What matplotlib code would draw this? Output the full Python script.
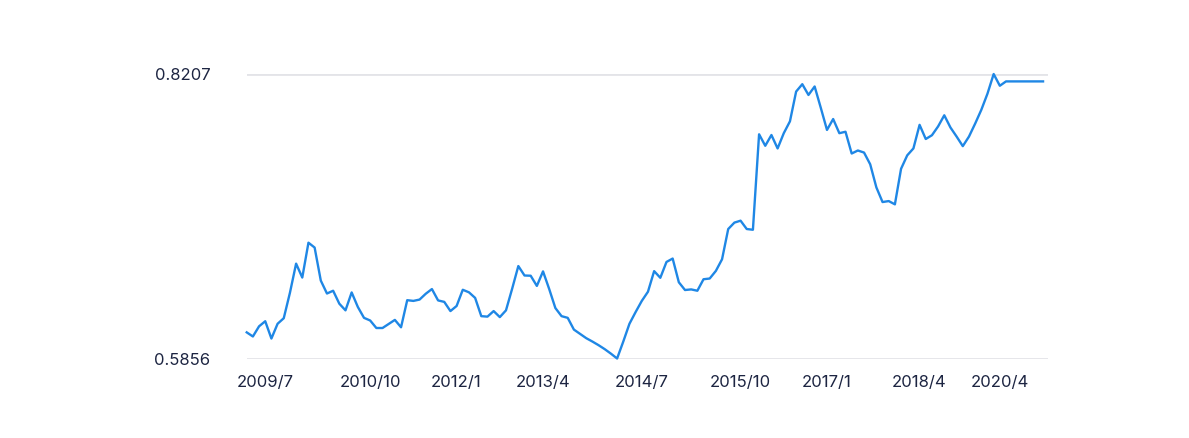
import numpy as np
import matplotlib
matplotlib.use('Agg')
import matplotlib.pyplot as plt

# valores (um por ponto)
values = [
    0.6072, 0.6038, 0.6122, 0.6164, 0.6021, 0.6143, 0.6189, 0.6399, 0.6640, 0.6525,
    0.6813, 0.6773, 0.6500, 0.6393, 0.6416, 0.6309, 0.6254, 0.6402, 0.6282, 0.6192,
    0.6170, 0.6108, 0.6108, 0.6142, 0.6175, 0.6114, 0.6338, 0.6332, 0.6343, 0.6391,
    0.6430, 0.6336, 0.6324, 0.6248, 0.6290, 0.6424, 0.6403, 0.6357, 0.6206, 0.6202,
    0.6248, 0.6198, 0.6254, 0.6433, 0.6620, 0.6542, 0.6540, 0.6456, 0.6576, 0.6430,
    0.6273, 0.6206, 0.6192, 0.6095, 0.6059, 0.6024, 0.5996, 0.5966, 0.5933, 0.5896,
    0.5856, 0.5996, 0.6143, 0.6240, 0.6332, 0.6408, 0.6578, 0.6523, 0.6654, 0.6682,
    0.6486, 0.6422, 0.6427, 0.6416, 0.6511, 0.6517, 0.6580, 0.6676, 0.6926, 0.6979,
    0.6995, 0.6926, 0.6920, 0.7709, 0.7614, 0.7703, 0.7592, 0.7718, 0.7816, 0.8062,
    0.8123, 0.8034, 0.8104, 0.7927, 0.7745, 0.7835, 0.7718, 0.7730, 0.7550, 0.7575,
    0.7558, 0.7461, 0.7270, 0.7149, 0.7157, 0.7130, 0.7424, 0.7535, 0.7592, 0.7787,
    0.7670, 0.7701, 0.7774, 0.7866, 0.7765, 0.7690, 0.7611, 0.7690, 0.7797, 0.7911,
    0.8045, 0.8207, 0.8110, 0.8146, 0.8146, 0.8146, 0.8146, 0.8146, 0.8146, 0.8146,
]
tick_labels = ['2009/7', '2010/10', '2012/1', '2013/4', '2014/7',
               '2015/10', '2017/1', '2018/4', '2020/4']
tick_idx = [3, 20, 34, 48, 64, 80, 94, 109, 122]

plt.rcParams['font.family'] = ['Inter', 'DejaVu Sans']

fig = plt.figure(figsize=(11.89, 4.38), dpi=100)
ax = fig.add_axes([0.2075, 0.1815, 0.8814 - 0.2075, 0.831 - 0.1815])

x = np.arange(len(values))
ax.plot(x, values, color='#1f87e5', lw=1.7, clip_on=False, zorder=3,
        solid_joinstyle='round')

ymin, ymax = min(values), max(values)
ax.set_ylim(ymin, ymax)
ax.set_xlim(0, 129.8)
ax.set_yticks([ymin, ymax])
ax.set_yticklabels(['%.4f' % ymin, '%.4f' % ymax])
ax.set_xticks(tick_idx)
ax.set_xticklabels(tick_labels)

ax.grid(axis='y', color='#e3e4e8', lw=2)
ax.set_axisbelow(True)
for s in ax.spines.values():
    s.set_visible(False)
ax.tick_params(length=0, labelsize=12, colors='#1d2542')
ax.tick_params(axis='y', pad=26)
ax.tick_params(axis='x', pad=12)

fig.savefig('out.png', dpi=100)
